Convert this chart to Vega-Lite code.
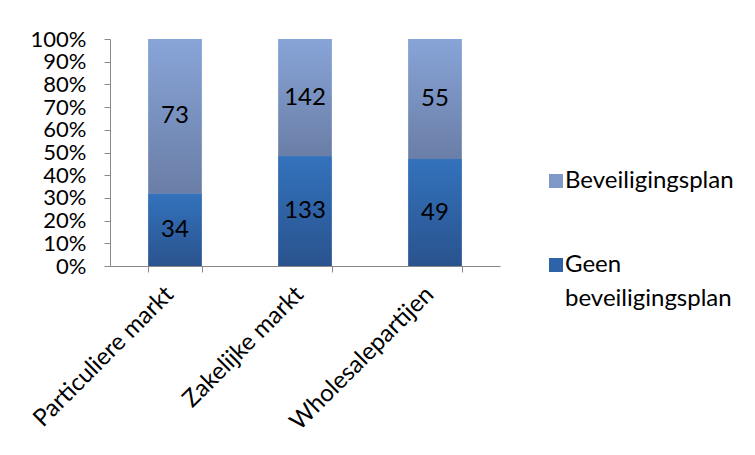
{
  "$schema": "https://vega.github.io/schema/vega-lite/v6.json",
  "autosize": "none",
  "padding": {"left": 110, "top": 39, "right": 255, "bottom": 189},
  "width": 390,
  "height": 227,
  "background": "white",
  "config": {
    "view": {"stroke": null},
    "font": "Lato",
    "axis": {"labelFont": "Lato", "labelFontSize": 24, "labelColor": "black", "domainColor": "#888888", "tickColor": "#888888", "grid": false, "title": null, "labelOverlap": false, "labelLimit": 400}
  },
  "data": {
    "values": [
      {"cat": "Particuliere markt", "series": "Geen beveiligingsplan", "n": 34},
      {"cat": "Particuliere markt", "series": "Beveiligingsplan", "n": 73},
      {"cat": "Zakelijke markt", "series": "Geen beveiligingsplan", "n": 133},
      {"cat": "Zakelijke markt", "series": "Beveiligingsplan", "n": 142},
      {"cat": "Wholesalepartijen", "series": "Geen beveiligingsplan", "n": 49},
      {"cat": "Wholesalepartijen", "series": "Beveiligingsplan", "n": 55}
    ]
  },
  "transform": [
    {"stack": "n", "groupby": ["cat"], "sort": [{"field": "series", "order": "descending"}], "offset": "normalize", "as": ["y0", "y1"]},
    {"calculate": "(datum.y0 + datum.y1) / 2", "as": "ymid"}
  ],
  "encoding": {
    "x": {
      "field": "cat", "type": "nominal", "sort": null,
      "scale": {"paddingInner": 0.59, "paddingOuter": 0.295},
      "axis": {"labelAngle": -45, "tickBand": "extent", "tickSize": 6, "labelPadding": 10, "labelLimit": 400, "labelOffset": -14}
    }
  },
  "layer": [
    {
      "mark": {"type": "bar"},
      "encoding": {
        "y": {"field": "y0", "type": "quantitative", "scale": {"domain": [0, 1], "nice": false},
          "axis": {"values": [0, 0.1, 0.2, 0.3, 0.4, 0.5, 0.6, 0.7, 0.8, 0.9, 1], "tickCount": 11, "format": ".0%", "tickSize": 6, "labelPadding": 18, "labelOverlap": false, "labelFlush": false, "labelFontSize": 22}},
        "y2": {"field": "y1"},
        "color": {
          "field": "series", "type": "nominal",
          "scale": {"domain": ["Beveiligingsplan", "Geen beveiligingsplan"], "range": ["#7F98C8", "#2F63A8"]},
          "legend": {
            "orient": "none", "legendX": 434, "legendY": 130, "title": null,
            "symbolType": "square", "symbolSize": 196, "symbolStrokeWidth": 0,
            "labelFontSize": 24, "labelFont": "Lato", "labelColor": "black", "labelLimit": 400, "labelOffset": -3,
            "rowPadding": 60,
            "labelExpr": "datum.label == 'Geen beveiligingsplan' ? ['Geen', 'beveiligingsplan'] : datum.label",
            "encode": {"labels": {"update": {"lineHeight": {"value": 34}}}}
          }
        }
      }
    },
    {
      "transform": [{"filter": "datum.series == 'Beveiligingsplan'"}],
      "mark": {"type": "bar", "color": {"gradient": "linear", "x1": 0, "y1": 0, "x2": 0, "y2": 1,
        "stops": [{"offset": 0, "color": "#88A4D8"}, {"offset": 1, "color": "#6A7EA6"}]}},
      "encoding": {"y": {"field": "y0", "type": "quantitative", "axis": {"values": [0, 0.1, 0.2, 0.3, 0.4, 0.5, 0.6, 0.7, 0.8, 0.9, 1], "tickCount": 11, "format": ".0%", "tickSize": 6, "labelPadding": 18, "labelOverlap": false, "labelFlush": false, "labelFontSize": 22}}, "y2": {"field": "y1"}}
    },
    {
      "transform": [{"filter": "datum.series == 'Geen beveiligingsplan'"}],
      "mark": {"type": "bar", "color": {"gradient": "linear", "x1": 0, "y1": 0, "x2": 0, "y2": 1,
        "stops": [{"offset": 0, "color": "#3372BC"}, {"offset": 1, "color": "#2A538E"}]}},
      "encoding": {"y": {"field": "y0", "type": "quantitative", "axis": {"values": [0, 0.1, 0.2, 0.3, 0.4, 0.5, 0.6, 0.7, 0.8, 0.9, 1], "tickCount": 11, "format": ".0%", "tickSize": 6, "labelPadding": 18, "labelOverlap": false, "labelFlush": false, "labelFontSize": 22}}, "y2": {"field": "y1"}}
    },
    {
      "mark": {"type": "text", "fontSize": 24, "font": "Lato", "color": "black", "baseline": "middle"},
      "encoding": {"y": {"field": "ymid", "type": "quantitative", "axis": {"values": [0, 0.1, 0.2, 0.3, 0.4, 0.5, 0.6, 0.7, 0.8, 0.9, 1], "tickCount": 11, "format": ".0%", "tickSize": 6, "labelPadding": 18, "labelOverlap": false, "labelFlush": false, "labelFontSize": 22}}, "text": {"field": "n", "type": "quantitative"}}
    }
  ]
}
